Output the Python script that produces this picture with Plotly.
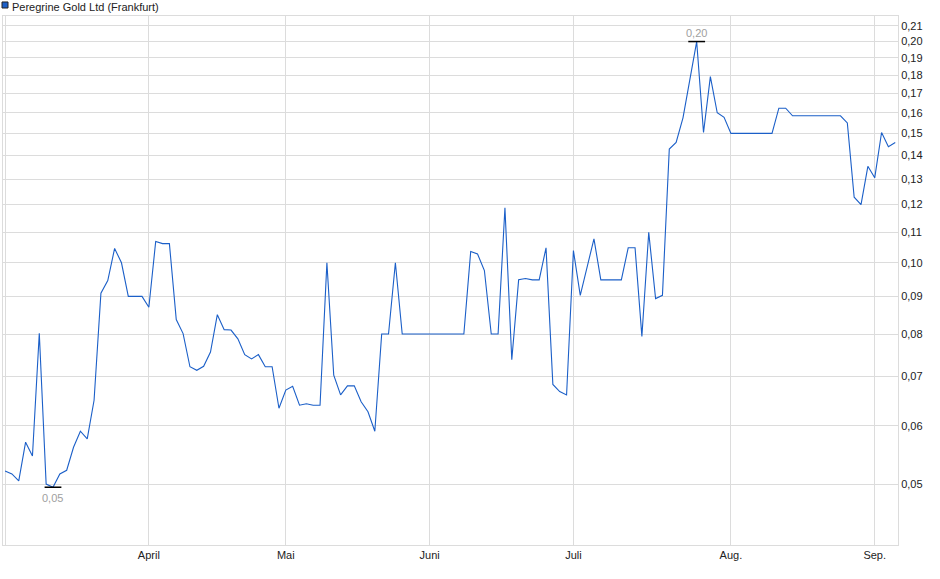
import math
import plotly.graph_objects as go

# daily closing prices, one per trading day (Frankfurt)
title = "Peregrine Gold Ltd (Frankfurt)"
prices = [
    0.0521, 0.0516, 0.0505, 0.0570, 0.0546, 0.0802, 0.0500, 0.0495, 0.0516, 0.0522,
    0.0561, 0.0590, 0.0576, 0.0650, 0.0909, 0.0946, 0.1046, 0.1000, 0.0900, 0.0900,
    0.0900, 0.0870, 0.1069, 0.1062, 0.1062, 0.0837, 0.0801, 0.0722, 0.0714, 0.0723,
    0.0756, 0.0850, 0.0811, 0.0810, 0.0788, 0.0750, 0.0740, 0.0750, 0.0722, 0.0722,
    0.0634, 0.0671, 0.0679, 0.0640, 0.0643, 0.0640, 0.0640, 0.1000, 0.0703, 0.0661,
    0.0680, 0.0680, 0.0647, 0.0627, 0.0590, 0.0800, 0.0800, 0.1000, 0.0800, 0.0800,
    0.0800, 0.0800, 0.0800, 0.0800, 0.0800, 0.0800, 0.0800, 0.0800, 0.1036, 0.1028,
    0.0976, 0.0800, 0.0800, 0.1188, 0.0738, 0.0948, 0.0952, 0.0948, 0.0948, 0.1048,
    0.0683, 0.0668, 0.0661, 0.1039, 0.0903, 0.0985, 0.1078, 0.0948, 0.0948, 0.0948,
    0.0948, 0.1048, 0.1048, 0.0794, 0.1100, 0.0894, 0.0903, 0.1428, 0.1458, 0.1575,
    0.1770, 0.2000, 0.1504, 0.1792, 0.1600, 0.1577, 0.1500, 0.1500, 0.1500, 0.1500,
    0.1500, 0.1500, 0.1500, 0.1623, 0.1623, 0.1585, 0.1585, 0.1585, 0.1585, 0.1585,
    0.1585, 0.1585, 0.1585, 0.1550, 0.1228, 0.1200, 0.1353, 0.1305, 0.1504, 0.1439,
    0.1458,
]

# first trading day of each month (index into prices)
month_idx = [0, 21, 41, 62, 83, 106, 127]
month_labels = ["", "April", "Mai", "Juni", "Juli", "Aug.", "Sep."]

y_ticks = [0.05, 0.06, 0.07, 0.08, 0.09, 0.10, 0.11, 0.12, 0.13, 0.14,
           0.15, 0.16, 0.17, 0.18, 0.19, 0.20, 0.21]

days = list(range(len(prices)))
lo = prices.index(min(prices))
hi = prices.index(max(prices))

grid = "#dcdcdc"

fig = go.Figure()

fig.add_trace(go.Scatter(
    x=days, y=prices, mode="lines",
    line=dict(color="#1b5fc8", width=1.1),
    hoverinfo="x+y", showlegend=False,
))

# little black dashes at the low and the high
fig.add_trace(go.Scatter(
    x=[lo, hi], y=[prices[lo], prices[hi]], mode="markers",
    marker=dict(symbol="line-ew", size=12, line=dict(color="black", width=1.5)),
    hoverinfo="skip", showlegend=False,
))

# log axis -> annotations want log10 positions
fig.add_annotation(x=lo, y=math.log10(prices[lo]), yref="y", xref="x",
                   text=f"{prices[lo]:.2f}".replace(".", ","),
                   showarrow=False, yshift=-11,
                   font=dict(size=11, color="#a0a0a0"))
fig.add_annotation(x=hi, y=math.log10(prices[hi]), yref="y", xref="x",
                   text=f"{prices[hi]:.2f}".replace(".", ","),
                   showarrow=False, yshift=9,
                   font=dict(size=11, color="#a0a0a0"))

# legend-like title with a blue square
fig.add_shape(type="rect", xref="paper", yref="paper",
              x0=-0.0011, x1=0.0056, y0=1.0151, y1=1.0265,
              fillcolor="#1b5fc8", line=dict(color="#222222", width=1))
fig.add_annotation(x=0.0075, y=1.0175, xref="paper", yref="paper",
                   text=title, showarrow=False, xanchor="left", yanchor="middle",
                   font=dict(size=11, color="#222222"))

fig.update_layout(
    width=940, height=579,
    margin=dict(l=3, r=42, t=16, b=34, autoexpand=False),
    paper_bgcolor="white", plot_bgcolor="white",
    font=dict(family="Liberation Sans, Arial, sans-serif", size=11, color="#222222"),
    separators=",.",
)

fig.update_xaxes(
    range=[-0.3, 130.4], automargin=False,
    tickvals=month_idx, ticktext=month_labels,
    showgrid=True, gridcolor=grid, gridwidth=1,
    showline=True, linecolor=grid, mirror=True,
    ticks="", zeroline=False,
)

fig.update_yaxes(
    type="log", side="right", automargin=False,
    range=[-1.384, -0.6642],
    tickvals=y_ticks, tickformat=".2f",
    showgrid=True, gridcolor=grid, gridwidth=1,
    showline=True, linecolor=grid, mirror=True,
    ticks="", zeroline=False,
)

# drop the browser's default body margin so the chart sits at the page corner
fig.write_html("out.html", config={"displayModeBar": False},
               post_script="document.body.style.margin='0';")
